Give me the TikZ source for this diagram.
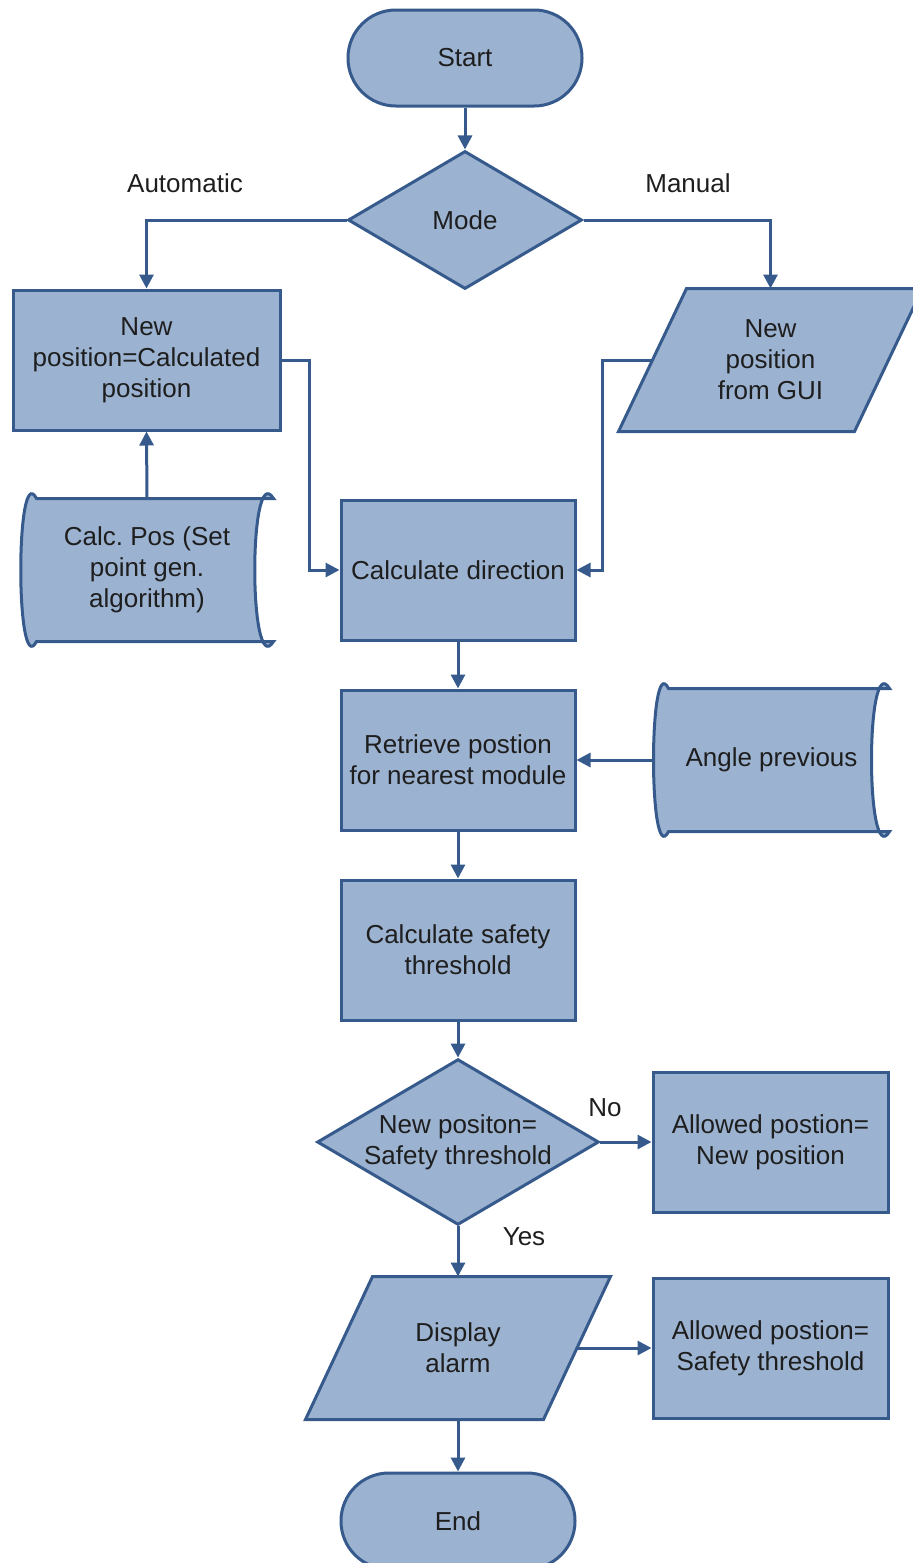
\documentclass[tikz,border=0pt]{standalone}
\usepackage{fontspec}
\setmainfont{Liberation Sans}
\usetikzlibrary{shapes.geometric,arrows.meta,backgrounds}

\definecolor{boxfill}{RGB}{155,178,208}
\definecolor{boxline}{RGB}{55,90,140}
\definecolor{txtgray}{RGB}{30,30,30}

\tikzset{every picture/.style={line width=1.5pt}}
\tikzset{
	txtfont/.style={text=txtgray, font=\fontsize{13}{15.5}\selectfont, align=center, inner sep=0pt},
	base/.style={txtfont, fill=boxfill, draw=boxline},
	terminal/.style={base, rectangle, rounded corners=23.9pt, minimum width=117pt, minimum height=48pt},
	process/.style={base, rectangle, minimum width=117pt, minimum height=70pt},
	decision/.style={base, diamond, aspect=1.7},
	bare/.style={txtfont, rectangle, minimum height=70pt},
	outline/.style={fill=boxfill, draw=boxline, line width=1.5pt},
	flow/.style={draw=boxline, -{Triangle[length=7pt,width=7pt]}},
	tag/.style={txtfont}
}

\begin{document}
\frenchspacing
\begin{tikzpicture}[x=0.5pt,y=0.5pt,yscale=-1,xscale=1]
				\useasboundingbox (0,0) rectangle (912,1563);
				
				%Flowchart: Terminal [id:start]
				\node [terminal] (start) at (465,58) {Start};
				%Flowchart: Decision [id:mode]
				\node [decision, minimum width=117pt, minimum height=69pt] (mode) at (465,220) {Mode};
				%Flowchart: Process [id:newpos]
				\node [process, minimum width=133.5pt] (newpos) at (146.5,360) {New\\position=Calculated\\position};
				%Flowchart: Data [id:gui]
				\node [bare, minimum width=116.5pt] (gui) at (770.5,360) {New\\position\\from GUI};
				%Flowchart: Stored Data [id:calcpos]
				\node [bare, minimum width=125pt] (calcpos) at (147,570) {Calc. Pos (Set\\point gen.\\algorithm)};
				%Flowchart: Process [id:calcdir]
				\node [process] (calcdir) at (458,570) {Calculate direction};
				%Flowchart: Process [id:retrieve]
				\node [process] (retrieve) at (458,760) {Retrieve postion\\for nearest module};
				%Flowchart: Stored Data [id:angle]
				\node [bare, minimum width=116.5pt] (angle) at (771.5,760) {Angle previous};
				%Flowchart: Process [id:safety]
				\node [process] (safety) at (458,950) {Calculate safety\\threshold};
				%Flowchart: Decision [id:check]
				\node [decision, minimum width=140pt, minimum height=82.5pt] (check) at (458,1142) {New positon=\\Safety threshold};
				%Flowchart: Process [id:allownew]
				\node [process, minimum width=117.5pt] (allownew) at (770.5,1142) {Allowed postion=\\New position};
				%Flowchart: Data [id:alarm]
				\node [bare, minimum width=117.5pt] (alarm) at (458,1348) {Display\\alarm};
				%Flowchart: Process [id:allowsafe]
				\node [process, minimum width=117.5pt] (allowsafe) at (770.5,1348) {Allowed postion=\\Safety threshold};
				%Flowchart: Terminal [id:end]
				\node [terminal] (end) at (458,1521) {End};
				
				%Outlines of the slanted and curved shapes
				\begin{scope}[on background layer]
					\draw [outline] ([xshift=17pt]gui.north west) -- ([xshift=17pt]gui.north east) -- ([xshift=-17pt]gui.south east) -- ([xshift=-17pt]gui.south west) -- cycle;
					\draw [outline] ([xshift=16.75pt]alarm.north west) -- ([xshift=16.75pt]alarm.north east) -- ([xshift=-16.75pt]alarm.south east) -- ([xshift=-16.75pt]alarm.south west) -- cycle;
					\draw [outline] ([xshift=8pt]calcpos.north west) -- (calcpos.north east) .. controls ([xshift=-12.5pt,yshift=-20pt]calcpos.north east) and ([xshift=-12.5pt,yshift=20pt]calcpos.south east) .. (calcpos.south east) -- ([xshift=8pt]calcpos.south west) .. controls ([xshift=-2.5pt,yshift=20pt]calcpos.south west) and ([xshift=-2.5pt,yshift=-20pt]calcpos.north west) .. cycle;
					\draw [outline] ([xshift=7.5pt]angle.north west) -- (angle.north east) .. controls ([xshift=-12pt,yshift=-20pt]angle.north east) and ([xshift=-12pt,yshift=20pt]angle.south east) .. (angle.south east) -- ([xshift=7.5pt]angle.south west) .. controls ([xshift=-2.5pt,yshift=20pt]angle.south west) and ([xshift=-2.5pt,yshift=-20pt]angle.north west) .. cycle;
				\end{scope}
				
				%Connectors
				\draw [flow] (start) -- (mode);
				\draw [flow] (mode.west) -| (newpos.north);
				\draw [flow] (mode.east) -| (gui.north);
				\draw [flow] (calcpos.north) -- (newpos.south);
				\draw [flow] (newpos.east) -- ++(28,0) |- (calcdir.west);
				\draw [flow] (gui.west) -- ++(-50,0) |- (calcdir.east);
				\draw [flow] (calcdir) -- (retrieve);
				\draw [flow] (angle.west) -- (retrieve.east);
				\draw [flow] (retrieve) -- (safety);
				\draw [flow] (safety) -- (check);
				\draw [flow] (check.east) -- (allownew.west);
				\draw [flow] (check.south) -- (alarm.north);
				\draw [flow] (alarm.east) -- (allowsafe.west);
				\draw [flow] (alarm.south) -- (end.north);
				
				% Text Node
				\node [tag] (lblauto) at (185,183) {Automatic};
				% Text Node
				\node [tag] (lblmanual) at (688,183) {Manual};
				% Text Node
				\node [tag] (lblno) at (605,1108) {No};
				% Text Node
				\node [tag] (lblyes) at (524,1237) {Yes};
\end{tikzpicture}
\end{document}
